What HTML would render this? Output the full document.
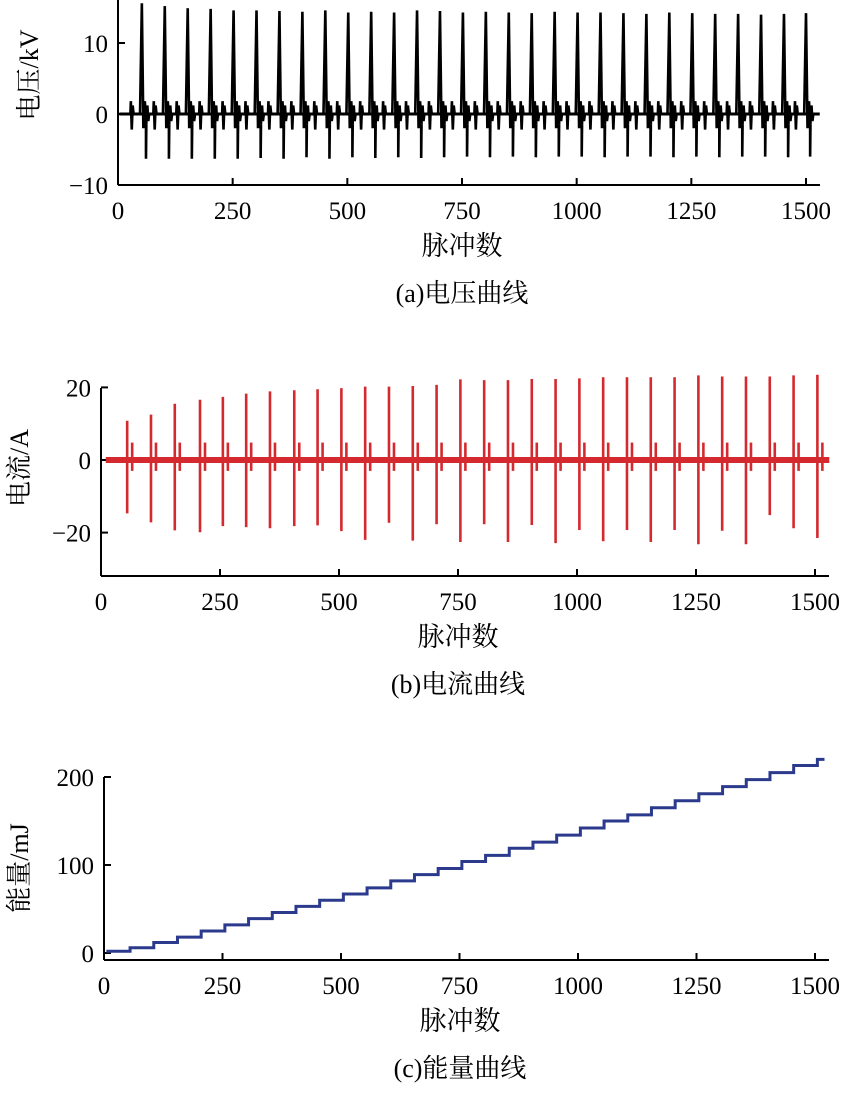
<!DOCTYPE html>
<html><head><meta charset="utf-8">
<style>
html,body{margin:0;padding:0;background:#fff;}
svg{display:block;}
text{font-family:"Liberation Serif","Noto Serif CJK SC",serif;fill:#000;}
</style></head>
<body>
<svg id="s" width="851" height="1095"></svg>
<script>
// ---- data ----
const xTicks=[0,250,500,750,1000,1250,1500];
const vTicks=[10,0,-10];
const iTicks=[20,0,-20];
const eTicks=[200,100,0];
const vPulseX=[52,102,152,202,252,302,352,402,452,502,552,602,652,702,752,802,852,902,952,1002,1052,1102,1152,1202,1252,1302,1352,1402,1452,1500];
const vPeak=[15.6,15.2,14.9,14.8,14.6,14.6,14.5,14.4,14.6,14.3,14.4,14.3,14.6,14.5,14.3,14.4,14.3,14.2,14.4,14.3,14.3,14.2,14.1,14.3,14.2,14.1,14.1,14.0,14.1,14.2];
const vNeg=[-6.3,-6.3,-6.3,-6.3,-6.3,-6.2,-6.3,-6.1,-6.3,-6.1,-6.2,-6.1,-6.2,-6.1,-6.0,-6.1,-6.0,-6.1,-6.0,-6.0,-6.1,-6.0,-6.0,-6.1,-6.0,-6.1,-6.0,-6.0,-6.1,-6.0];
const iPulseX=[55,105,155,208,256,305,355,406,455,505,555,605,655,705,755,805,855,905,955,1005,1055,1105,1155,1205,1255,1305,1355,1405,1455,1505];
const iPeak=[10.8,12.5,15.5,16.6,17.4,18.3,18.9,19.2,19.5,19.8,20.2,20.2,20.4,20.7,22.2,22.0,22.0,22.3,22.3,22.5,22.8,22.8,22.8,22.8,23.3,23.0,23.0,23.0,23.3,23.5];
const iNeg=[-14.7,-17.2,-19.4,-19.9,-18.2,-18.5,-18.8,-18.2,-18.0,-19.6,-22.0,-17.3,-22.2,-17.7,-22.6,-17.7,-22.6,-17.9,-22.9,-19.3,-22.4,-19.3,-22.6,-19.3,-23.2,-19.5,-23.2,-15.2,-18.8,-21.5];
const eStepX=[55,105,155,205,255,305,355,405,455,505,555,605,655,705,755,805,855,905,955,1005,1055,1105,1155,1205,1255,1305,1355,1405,1455,1505];
const eLevel=[6,12,18,25,32,39,46,53,60,67,74,82,89,96,104,111,119,126,134,142,150,157,165,173,181,189,197,205,213,220];
const eStart=2;

const S=document.getElementById('s');
const NS='http://www.w3.org/2000/svg';
function mk(tag,attrs,parent){const e=document.createElementNS(NS,tag);for(const k in attrs)e.setAttribute(k,attrs[k]);(parent||S).appendChild(e);return e;}

function axes(g,cfg){
  const X=v=>cfg.x0+(v-0)*(cfg.x1-cfg.x0)/1500;
  const Y=v=>cfg.yZero-v*cfg.yScale;
  const ax=mk('g',{},g);
  
  
  mk('line',{x1:cfg.x0,y1:cfg.yTop,x2:cfg.x0,y2:cfg.yBot,stroke:'#000','stroke-width':2},ax);
  mk('line',{x1:cfg.x0,y1:cfg.yBot,x2:cfg.x1+14,y2:cfg.yBot,stroke:'#000','stroke-width':2},ax);
  xTicks.forEach(t=>{
    mk('line',{x1:X(t),y1:cfg.yBot,x2:X(t),y2:cfg.yBot-7,stroke:'#000','stroke-width':2},ax);
    const tx=mk('text',{x:X(t),y:cfg.yBot+34,'text-anchor':'middle','font-size':25},ax);
    
    
    tx.textContent=t;
  });
  cfg.yt.forEach(t=>{
    mk('line',{x1:cfg.x0,y1:Y(t),x2:cfg.x0+7,y2:Y(t),stroke:'#000','stroke-width':2},ax);
    const tx=mk('text',{x:cfg.x0-10,y:Y(t)+9,'text-anchor':'end','font-size':25},ax);
    
    
    tx.textContent=(t<0?'\u2212'+(-t):t);
  });
  const yl=mk('text',{x:0,y:0,'text-anchor':'middle','font-size':26,transform:`translate(${cfg.ylx},${cfg.yly}) rotate(-90)`},ax);
  
  
  yl.textContent=cfg.ylab;
  const xl=mk('text',{x:cfg.xlx,y:cfg.yBot+70,'text-anchor':'middle','font-size':27},ax);
  
  
  xl.textContent='脉冲数';
  const cap=mk('text',{x:cfg.xlx,y:cfg.yBot+117,'text-anchor':'middle','font-size':26},ax);
  
  
  cap.textContent=cfg.cap;
  return {X,Y};
}

// ---- (a) voltage ----
const ga=mk('g',{});


const A=axes(ga,{name:'voltage',x0:118,x1:806,yZero:114,yScale:7.1,yTop:0,yBot:185,yt:vTicks,ylx:38,yly:75,ylab:'电压/kV',xlx:462,cap:'(a)电压曲线'});
mk('line',{x1:A.X(3),y1:A.Y(0),x2:A.X(1530),y2:A.Y(0),stroke:'#000','stroke-width':3},ga);
vPulseX.forEach((p,i)=>{
  const g=mk('g',{},ga);
  
  
  const x=A.X(p);
  const d=`M${A.X(p-25)},${A.Y(0)} L${A.X(p-24)},${A.Y(1.8)} L${A.X(p-22)},${A.Y(-2.2)} L${A.X(p-20)},${A.Y(1.2)} L${A.X(p-18)},${A.Y(0)}
  M${A.X(p-4)},${A.Y(0)} L${x},${A.Y(vPeak[i])} L${x+1.5},${A.Y(-2)} L${x+3},${A.Y(1.8)} L${x+4.5},${A.Y(-1.5)} L${A.X(p+9)},${A.Y(0.5)} L${A.X(p+9)},${A.Y(vNeg[i])} L${A.X(p+10)},${A.Y(0)} L${A.X(p+12)},${A.Y(1.2)} L${A.X(p+14)},${A.Y(-1)} L${A.X(p+16)},${A.Y(0)}`;
  mk('path',{d,fill:'none',stroke:'#000','stroke-width':2.6},g);
});

// ---- (b) current ----
const gb=mk('g',{});


const B=axes(gb,{name:'current',x0:101,x1:815,yZero:460,yScale:3.63,yTop:388,yBot:576,yt:iTicks,ylx:28,yly:468,ylab:'电流/A',xlx:458,cap:'(b)电流曲线'});
mk('line',{x1:B.X(10),y1:B.Y(0),x2:B.X(1530),y2:B.Y(0),stroke:'#d42a2f','stroke-width':6},gb);
iPulseX.forEach((p,i)=>{
  const g=mk('g',{},gb);
  
  
  const x=B.X(p);
  mk('line',{x1:x,y1:B.Y(iPeak[i]),x2:x,y2:B.Y(iNeg[i]),stroke:'#d42a2f','stroke-width':2.6},g);
  mk('line',{x1:x+5,y1:B.Y(4.8),x2:x+5,y2:B.Y(-3),stroke:'#d42a2f','stroke-width':2.6},g);
});

// ---- (c) energy ----
const gc=mk('g',{});


const C=axes(gc,{name:'energy',x0:104,x1:815,yZero:953,yScale:0.88,yTop:777,yBot:960,yt:eTicks,ylx:28,yly:868,ylab:'能量/mJ',xlx:460,cap:'(c)能量曲线'});
let d=`M${C.X(5)},${C.Y(eStart)}`;
let prev=eStart;
eStepX.forEach((p,i)=>{d+=` L${C.X(p)},${C.Y(prev)} L${C.X(p)},${C.Y(eLevel[i])}`;prev=eLevel[i];});
d+=` L${C.X(1520)},${C.Y(prev)}`;
const ep=mk('path',{d,fill:'none',stroke:'#2b3a8c','stroke-width':3},gc);


</script>
</body></html>
